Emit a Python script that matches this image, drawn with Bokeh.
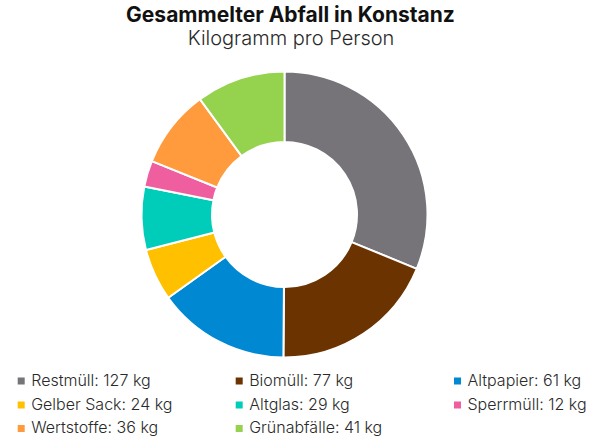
from math import pi

from bokeh.plotting import figure
from bokeh.models import ColumnDataSource, Range1d
from bokeh.core.properties import value
from bokeh.embed import file_html
from bokeh.resources import INLINE

# Abfallmengen in Konstanz, kg pro Person
arten = ["Restmüll", "Biomüll", "Altpapier", "Gelber Sack", "Altglas",
         "Sperrmüll", "Wertstoffe", "Grünabfälle"]
mengen = [127, 77, 61, 24, 29, 12, 36, 41]
farben = ["#767379", "#6b3300", "#0088d3", "#ffc000", "#00cdb9",
          "#ef5fa0", "#ff9b3c", "#95d24d"]

titel = "Gesammelter Abfall in Konstanz"
untertitel = "Kilogramm pro Person"

W, H = 600, 445
FONT = "Inter"
FONT_LEICHT = "Inter Light, Inter"


def py(y):
    # Bildzeile (von oben) -> Datenkoordinate (von unten)
    return H - y


def basis(y, groesse):
    # Grundlinie für Text, SVG-Text sitzt etwas tiefer
    return py(y - 0.43 * groesse)


p = figure(width=W, height=H, output_backend="svg", toolbar_location=None,
           x_range=Range1d(0, W), y_range=Range1d(0, H),
           min_border=0, outline_line_color=None)
p.axis.visible = False
p.grid.visible = False

# Ringdiagramm, beginnt oben und läuft im Uhrzeigersinn
gesamt = sum(mengen)
start, ende = [], []
kum = 0
for m in mengen:
    start.append(pi / 2 - 2 * pi * kum / gesamt)
    kum += m
    ende.append(pi / 2 - 2 * pi * kum / gesamt)

ring = ColumnDataSource(dict(start=start, ende=ende, farbe=farben))
p.annular_wedge(x=284, y=py(214), inner_radius=72.5, outer_radius=143,
                start_angle="start", end_angle="ende", direction="clock",
                fill_color="farbe", line_color="white", line_width=2,
                source=ring)

# Titel
p.text(x=[290], y=[basis(23.5, 21)], text=[titel], text_font=value(FONT),
       text_font_size="21px", text_font_style="bold", text_color="#111111",
       text_align="center", text_baseline="alphabetic")
p.text(x=[290.5], y=[basis(46.5, 20)], text=[untertitel],
       text_font=value(FONT_LEICHT), text_font_size="20px",
       text_color="#2a2a2a", text_align="center", text_baseline="alphabetic")

# Legende in drei Spalten
spalten_x = [20.7, 238.7, 457]
zeilen_y = [386, 410, 433.5]
lx, my, ly, tx, texte = [], [], [], [], []
for i, (a, m) in enumerate(zip(arten, mengen)):
    z = zeilen_y[i // 3]
    lx.append(spalten_x[i % 3])
    my.append(py(z - 5.5))
    ly.append(basis(z, 16))
    tx.append(spalten_x[i % 3] + 10)
    texte.append(f"{a}: {m} kg")

leg = ColumnDataSource(dict(lx=lx, my=my, ly=ly, tx=tx, text=texte, farbe=farben))
p.scatter(x="lx", y="my", marker="square", size=7, fill_color="farbe",
          line_color=None, source=leg)
p.text(x="tx", y="ly", text="text", text_font=value(FONT_LEICHT),
       text_font_size="16px", text_color="#2a2a2a",
       text_baseline="alphabetic", source=leg)

open("out.html", "w").write(file_html(p, INLINE))
